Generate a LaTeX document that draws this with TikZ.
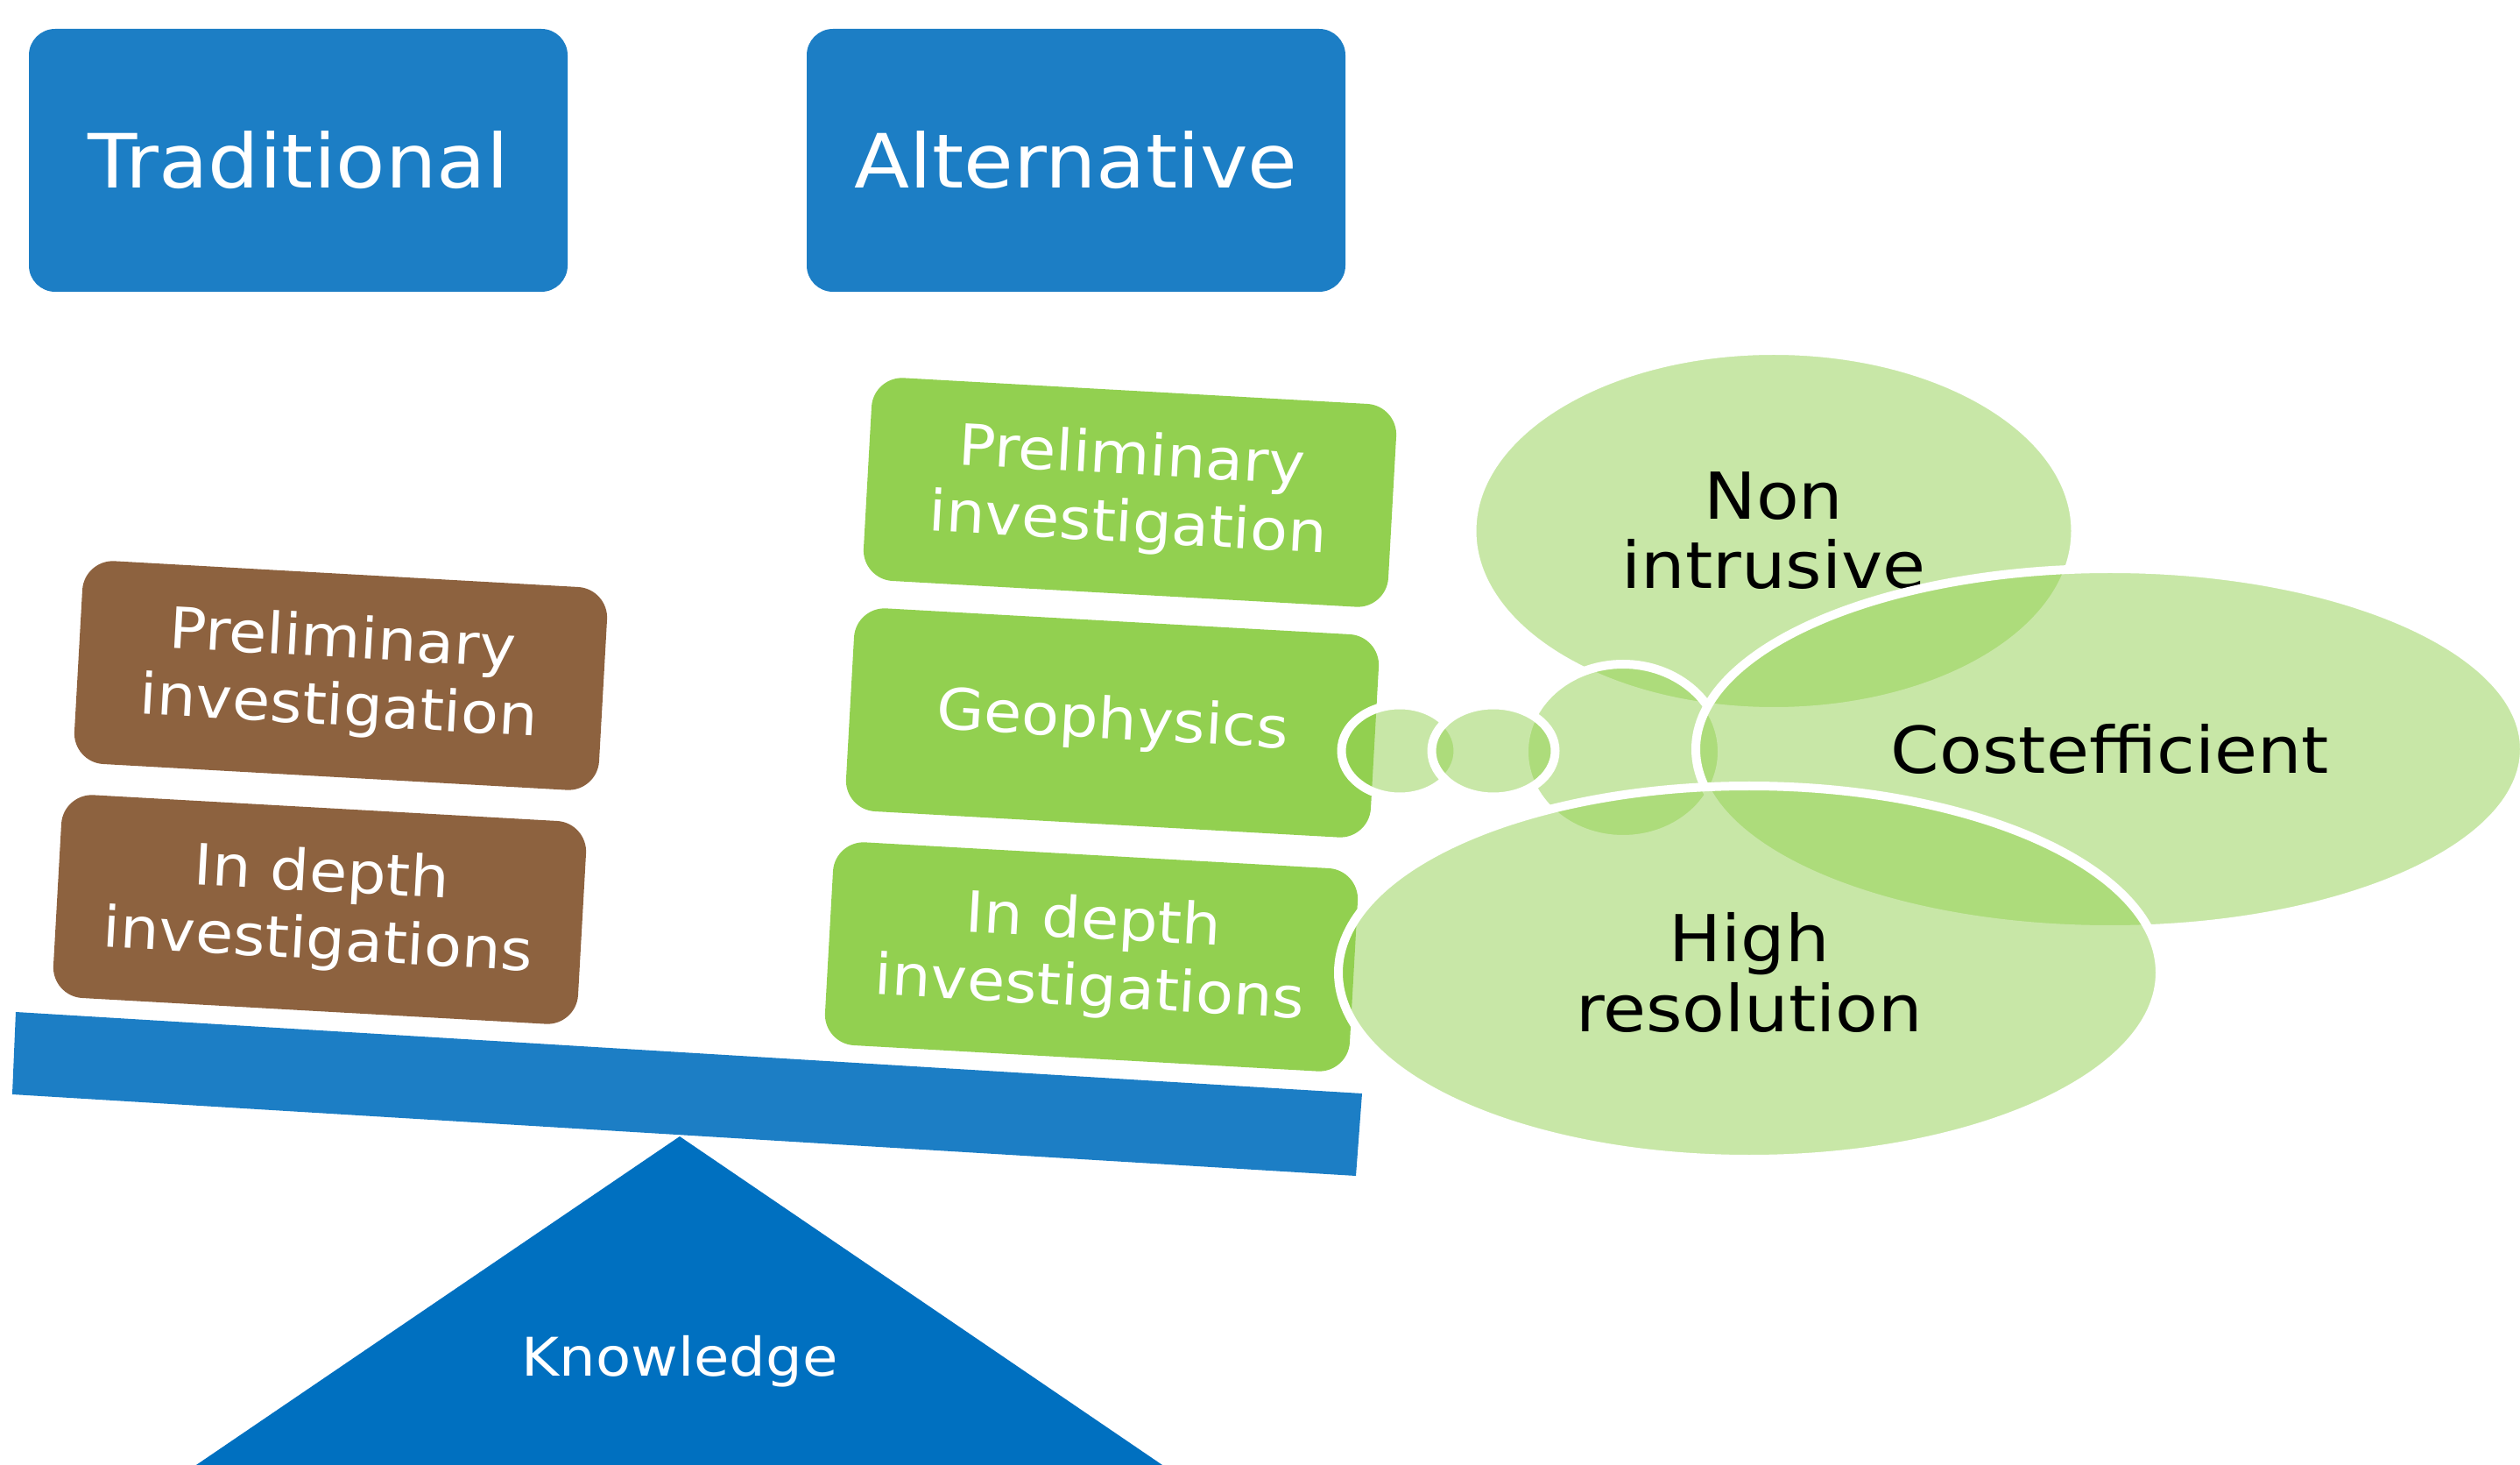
\documentclass[tikz,border=0pt]{standalone}
\usepackage{fontspec}
\setmainfont[FakeStretch=1.08]{DejaVu Sans}
\usetikzlibrary{shapes.geometric}

\definecolor{tradblue}{RGB}{28,126,197}
\definecolor{kblue}{RGB}{0,112,192}
\definecolor{brownbox}{RGB}{141,98,63}
\definecolor{greenbox}{RGB}{146,208,80}

\begin{document}
\begin{tikzpicture}[
 head/.style={fill=tradblue, rounded corners=.3cm, minimum width=6.15cm, minimum height=3.0cm, inner sep=0, text=white, font=\fontsize{24.3}{29}\selectfont},
 card/.style={rounded corners=.35cm, minimum width=6cm, minimum height=2.32cm, inner sep=0, rotate=-3.2, align=center, text=white, font=\fontsize{18.5}{22}\selectfont},
 bubble/.style={ellipse, fill=greenbox, fill opacity=.5, text opacity=1, draw=white, line width=.1cm, inner sep=0, align=center, font=\fontsize{21}{22.5}\selectfont}
]
\useasboundingbox (0,0) rectangle (28.77,-16.72);

\node[head] (trad) at (3.405,-1.83) {Traditional};
\node[head] (alt) at (12.285,-1.83) {Alternative};

% fulcrum and lever
\fill[kblue] (7.76,-12.97) -- (13.27,-16.72) -- (2.24,-16.72) -- cycle;
\node[text=white, font=\fontsize{17.3}{20}\selectfont] (know) at (7.76,-15.54) {Knowledge};
\fill[tradblue] (0.18,-11.55) -- (15.55,-12.48) -- (15.48,-13.42) -- (0.14,-12.49) -- cycle;

\node[card, fill=brownbox] (tpre) at (3.89,-7.71) {Preliminary\\investigation};
\node[card, fill=brownbox] (tdep) at (3.65,-10.38) {In depth\\investigations};
\node[card, fill=greenbox] (apre) at (12.90,-5.62) {Preliminary\\investigation};
\node[card, fill=greenbox] (ageo) at (12.70,-8.25) {Geophysics};
\node[card, fill=greenbox] (adep) at (12.46,-10.92) {In depth\\investigations};

% thought bubbles
\node[bubble, minimum width=6.89cm, minimum height=4.12cm] (nonintr) at (20.25,-6.06) {Non\\intrusive};
\node[bubble, minimum width=2.26cm, minimum height=2.0cm] (mid) at (18.53,-8.58) {};
\node[bubble, minimum width=9.46cm, minimum height=4.12cm] (cost) at (24.09,-8.55) {Costefficient};
\node[bubble, minimum width=9.38cm, minimum height=4.26cm] (hires) at (19.97,-11.10) {High\\resolution};
\foreach \nm/\x/\w in {sma/15.98/1.33, smb/17.05/1.41}
  \node[bubble, minimum width=\w cm, minimum height=1.05cm] (\nm) at (\x,-8.57) {};
\end{tikzpicture}
\end{document}
